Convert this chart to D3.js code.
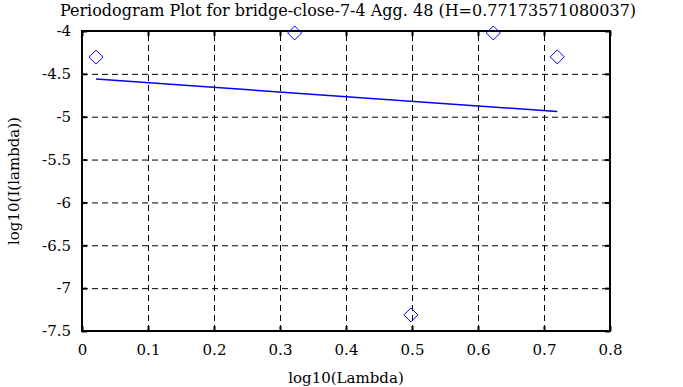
<!DOCTYPE html>
<html>
<head>
<meta charset="utf-8">
<script src="https://cdn.jsdelivr.net/npm/d3@7"></script>
<style>
  body { margin: 0; background: #fff; }
  .grid line { stroke: #000; stroke-dasharray: 6,4; stroke-width: 1; }
  .grid path { display: none; }
  .axis path { display: none; }
  .axis line { stroke: #000; stroke-width: 2; }
</style>
</head>
<body>
<svg id="chart" width="683" height="387"></svg>
<script>
'use strict';

var title = 'Periodogram Plot for bridge-close-7-4 Agg. 48 (H=0.77173571080037)';
var xLabel = 'log10(Lambda)';
var yLabel = 'log10(I(lambda))';

// periodogram points
var logLambda = [0.0212, 0.3222, 0.4983, 0.6232, 0.7201];
var logI = [-4.305, -4.023, -7.312, -4.023, -4.302];

// least squares fit line
var fitX = [0.0212, 0.7201];
var fitY = [-4.561, -4.939];

var xTicks = [0, 0.1, 0.2, 0.3, 0.4, 0.5, 0.6, 0.7, 0.8];
var yTicks = [-4, -4.5, -5, -5.5, -6, -6.5, -7, -7.5];

// only serif face available here
var serif = 'DejaVu Serif';

var svg = d3.select('#chart'),
  margin = {top: 31, right: 73, bottom: 56, left: 82},
  width = +svg.attr('width') - margin.left - margin.right,
  height = +svg.attr('height') - margin.top - margin.bottom,
  g = svg.append('g').attr('transform', 'translate(' + margin.left + ',' + margin.top + ')');

var x = d3.scaleLinear().domain([0, 0.8]).range([0, width]);
var y = d3.scaleLinear().domain([-7.5, -4]).range([height, 0]);

// grid
g.append('g')
  .attr('class', 'grid')
  .attr('transform', 'translate(0,' + height + ')')
  .call(d3.axisBottom(x).tickValues(xTicks).tickSize(-height).tickFormat(''));

g.append('g')
  .attr('class', 'grid')
  .call(d3.axisLeft(y).tickValues(yTicks).tickSize(-width).tickFormat(''));

// axes with inward ticks
var xAxis = g.append('g')
  .attr('class', 'axis')
  .attr('transform', 'translate(0,' + height + ')')
  .call(d3.axisBottom(x).tickValues(xTicks).tickSize(-5).tickPadding(13)
    .tickFormat(function(d) { return String(+d.toFixed(1)); }));

var yAxis = g.append('g')
  .attr('class', 'axis')
  .call(d3.axisLeft(y).tickValues(yTicks).tickSize(-5).tickPadding(11)
    .tickFormat(function(d) { return String(d); }));

[xAxis, yAxis].forEach(function(a) {
  a.attr('font-family', serif).attr('font-size', 15);
  a.selectAll('text').attr('fill', '#000');
});

g.append('g')
  .attr('class', 'axis')
  .call(d3.axisTop(x).tickValues(xTicks).tickSize(-5).tickFormat(''));

g.append('g')
  .attr('class', 'axis')
  .attr('transform', 'translate(' + width + ',0)')
  .call(d3.axisRight(y).tickValues(yTicks).tickSize(-5).tickFormat(''));

// frame
g.append('rect')
  .attr('width', width)
  .attr('height', height)
  .attr('fill', 'none')
  .attr('stroke', '#000')
  .attr('stroke-width', 2);

// fit line
var line = d3.line()
  .x(function(d) { return x(d[0]); })
  .y(function(d) { return y(d[1]); });

g.append('path')
  .datum(d3.zip(fitX, fitY))
  .attr('d', line)
  .attr('fill', 'none')
  .attr('stroke', '#0000ff')
  .attr('stroke-width', 1.5);

// diamonds
g.selectAll('.pt')
  .data(d3.zip(logLambda, logI))
  .enter().append('path')
  .attr('class', 'pt')
  .attr('transform', function(d) { return 'translate(' + x(d[0]) + ',' + y(d[1]) + ')'; })
  .attr('d', 'M0,-7L7,0L0,7L-7,0Z')
  .attr('fill', 'none')
  .attr('stroke', '#0000ff')
  .attr('stroke-width', 1);

// labels
svg.append('text')
  .attr('x', 348)
  .attr('y', 16)
  .attr('text-anchor', 'middle')
  .attr('font-family', serif)
  .attr('font-size', 16)
  .text(title);

svg.append('text')
  .attr('x', margin.left + width / 2)
  .attr('y', 383)
  .attr('text-anchor', 'middle')
  .attr('font-family', serif)
  .attr('font-size', 15)
  .text(xLabel);

svg.append('text')
  .attr('transform', 'translate(19,' + (margin.top + height / 2) + ') rotate(-90)')
  .attr('text-anchor', 'middle')
  .attr('font-family', serif)
  .attr('font-size', 15)
  .text(yLabel);
</script>
</body>
</html>
